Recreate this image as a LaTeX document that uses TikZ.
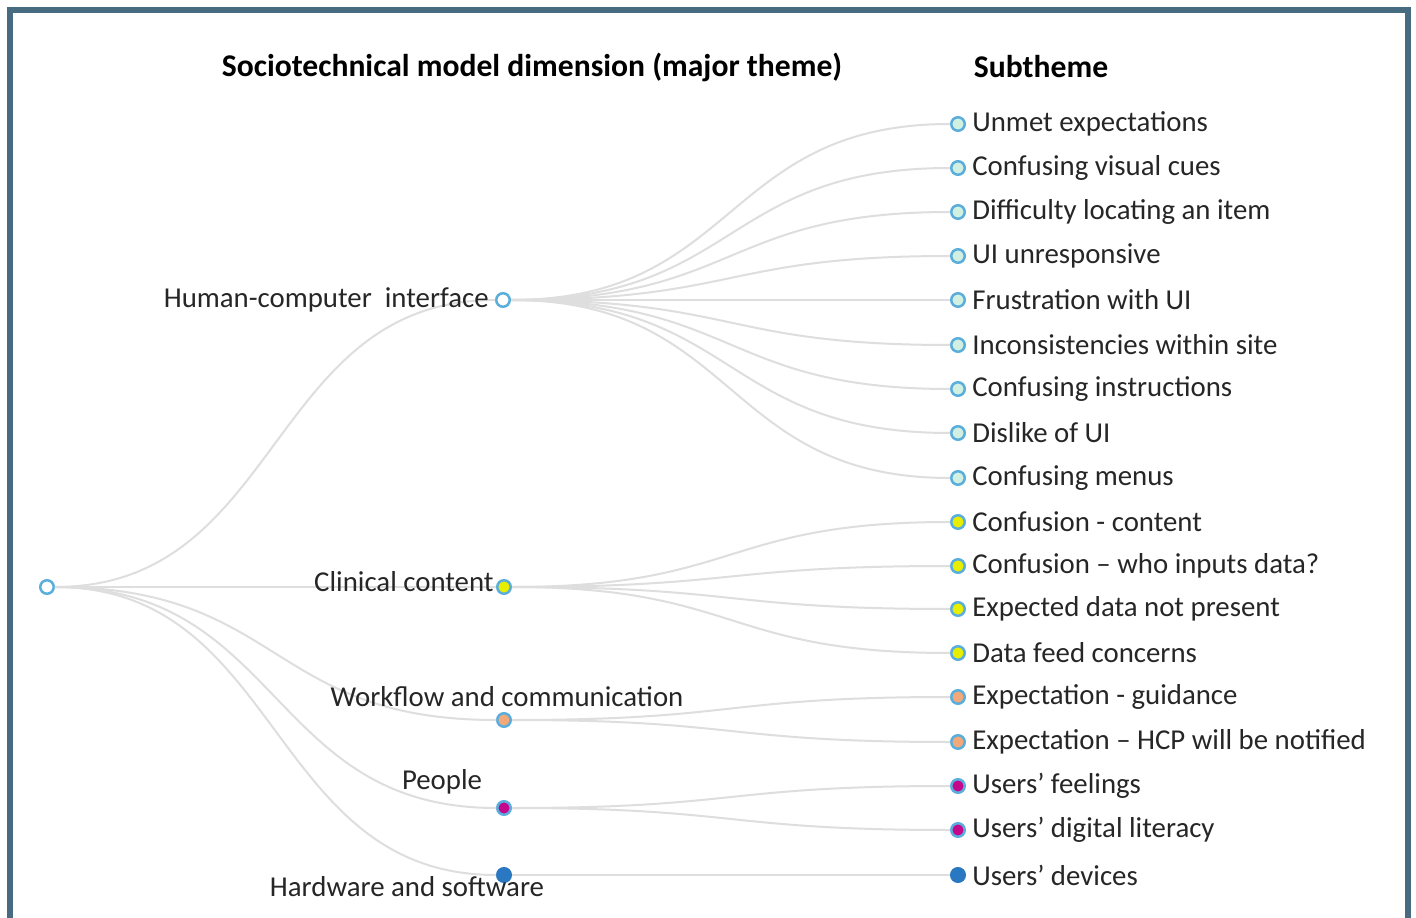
\documentclass[tikz,border=0pt]{standalone}
\usepackage{fontspec}
\setmainfont{Carlito}
\usetikzlibrary{calc}

\definecolor{framecol}{HTML}{476C82}
\definecolor{ringcol}{HTML}{5AAEDC}
\definecolor{hcifill}{HTML}{D2F0E2}
\definecolor{clinfill}{HTML}{E8EE00}
\definecolor{workfill}{HTML}{F2A878}
\definecolor{peopfill}{HTML}{C4088C}
\definecolor{hardfill}{HTML}{2A78C2}

\tikzset{
  themedot/.style={circle, draw=ringcol, line width=0.05cm, minimum size=0.27cm, inner sep=0pt},
  branch/.style={draw=black!13, line width=0.4mm, out=0, in=180, distance=4.56cm},
  leaftext/.style={anchor=west, inner xsep=0.12cm, inner ysep=0.05cm, text=black!85, font=\fontsize{16.4}{19}\selectfont},
  headtext/.style={text=black, font=\fontsize{18}{21}\selectfont\bfseries},
}

\begin{document}
\begin{tikzpicture}[x=0.02cm, y=-0.02cm]
			%%%%% START %%%%%
			\useasboundingbox (0, 0) rectangle (1416, 918);
			\fill[white] (0, 0) rectangle (1416, 918);
			\draw[framecol, line width=0.12cm] (10, 930) -- (10, 10) -- (1408, 10) -- (1408, 930);
			
			\node[headtext] (dimhead) at (532, 67) {Sociotechnical model dimension (major theme)};
			\node[headtext] (subhead) at (1041, 67) {Subtheme};
			
			% root and major themes
			\node[themedot, fill=white] (root) at (47, 587) {};
			\node[themedot, fill=white] (hci) at (503, 300) {};
			\node[themedot, fill=clinfill] (clin) at (504, 587) {};
			\node[themedot, fill=workfill] (work) at (504, 720) {};
			\node[themedot, fill=peopfill] (peop) at (504, 808) {};
			\node[themedot, draw=hardfill, fill=hardfill] (hard) at (504, 875) {};
			
			% subthemes
			\node[themedot, fill=hcifill] (s1) at (958, 124) {};
			\node[themedot, fill=hcifill] (s2) at (958, 168) {};
			\node[themedot, fill=hcifill] (s3) at (958, 212) {};
			\node[themedot, fill=hcifill] (s4) at (958, 256) {};
			\node[themedot, fill=hcifill] (s5) at (958, 300) {};
			\node[themedot, fill=hcifill] (s6) at (958, 345) {};
			\node[themedot, fill=hcifill] (s7) at (958, 389) {};
			\node[themedot, fill=hcifill] (s8) at (958, 433) {};
			\node[themedot, fill=hcifill] (s9) at (958, 478) {};
			\node[themedot, fill=clinfill] (s10) at (958, 522) {};
			\node[themedot, fill=clinfill] (s11) at (958, 566) {};
			\node[themedot, fill=clinfill] (s12) at (958, 609) {};
			\node[themedot, fill=clinfill] (s13) at (958, 653) {};
			\node[themedot, fill=workfill] (s14) at (958, 697) {};
			\node[themedot, fill=workfill] (s15) at (958, 742) {};
			\node[themedot, fill=peopfill] (s16) at (958, 786) {};
			\node[themedot, fill=peopfill] (s17) at (958, 830) {};
			\node[themedot, draw=hardfill, fill=hardfill] (s18) at (958, 875) {};
			
			% branches
			\draw[branch] (root) to (hci);
			\draw[branch] (root) to (clin);
			\draw[branch] (root) to (work);
			\draw[branch] (root) to (peop);
			\draw[branch] (root) to (hard);
			
			\draw[branch] (hci) to (s1);
			\draw[branch] (hci) to (s2);
			\draw[branch] (hci) to (s3);
			\draw[branch] (hci) to (s4);
			\draw[branch] (hci) to (s5);
			\draw[branch] (hci) to (s6);
			\draw[branch] (hci) to (s7);
			\draw[branch] (hci) to (s8);
			\draw[branch] (hci) to (s9);
			\draw[branch] (clin) to (s10);
			\draw[branch] (clin) to (s11);
			\draw[branch] (clin) to (s12);
			\draw[branch] (clin) to (s13);
			\draw[branch] (work) to (s14);
			\draw[branch] (work) to (s15);
			\draw[branch] (peop) to (s16);
			\draw[branch] (peop) to (s17);
			\draw[branch] (hard) to (s18);
			
			% labels
			\node[leaftext, anchor=east] (hcitext) at (495, 300) {Human-computer\ \ interface};
			\node[leaftext, anchor=east] (clintext) at (500, 582) {Clinical content};
			\node[leaftext, anchor=center] (worktext) at (507, 697) {Workflow and communication};
			\node[leaftext, anchor=center] (peoptext) at (442, 782) {People};
			\node[leaftext, anchor=center] (hardtext) at (407, 887) {Hardware and software};
			
			\node[leaftext] (t1) at (s1.east) {Unmet expectations};
			\node[leaftext] (t2) at (s2.east) {Confusing visual cues};
			\node[leaftext] (t3) at (s3.east) {Difficulty locating an item};
			\node[leaftext] (t4) at (s4.east) {UI unresponsive};
			\node[leaftext] (t5) at (s5.east) {Frustration with UI};
			\node[leaftext] (t6) at (s6.east) {Inconsistencies within site};
			\node[leaftext] (t7) at (s7.east) {Confusing instructions};
			\node[leaftext] (t8) at (s8.east) {Dislike of UI};
			\node[leaftext] (t9) at (s9.east) {Confusing menus};
			\node[leaftext] (t10) at (s10.east) {Confusion - content};
			\node[leaftext] (t11) at (s11.east) {Confusion -- who inputs data?};
			\node[leaftext] (t12) at (s12.east) {Expected data not present};
			\node[leaftext] (t13) at (s13.east) {Data feed concerns};
			\node[leaftext] (t14) at (s14.east) {Expectation - guidance};
			\node[leaftext] (t15) at (s15.east) {Expectation -- HCP will be notified};
			\node[leaftext] (t16) at (s16.east) {Users’ feelings};
			\node[leaftext] (t17) at (s17.east) {Users’ digital literacy};
			\node[leaftext] (t18) at (s18.east) {Users’ devices};
			%%%%% END %%%%%
\end{tikzpicture}
\end{document}
